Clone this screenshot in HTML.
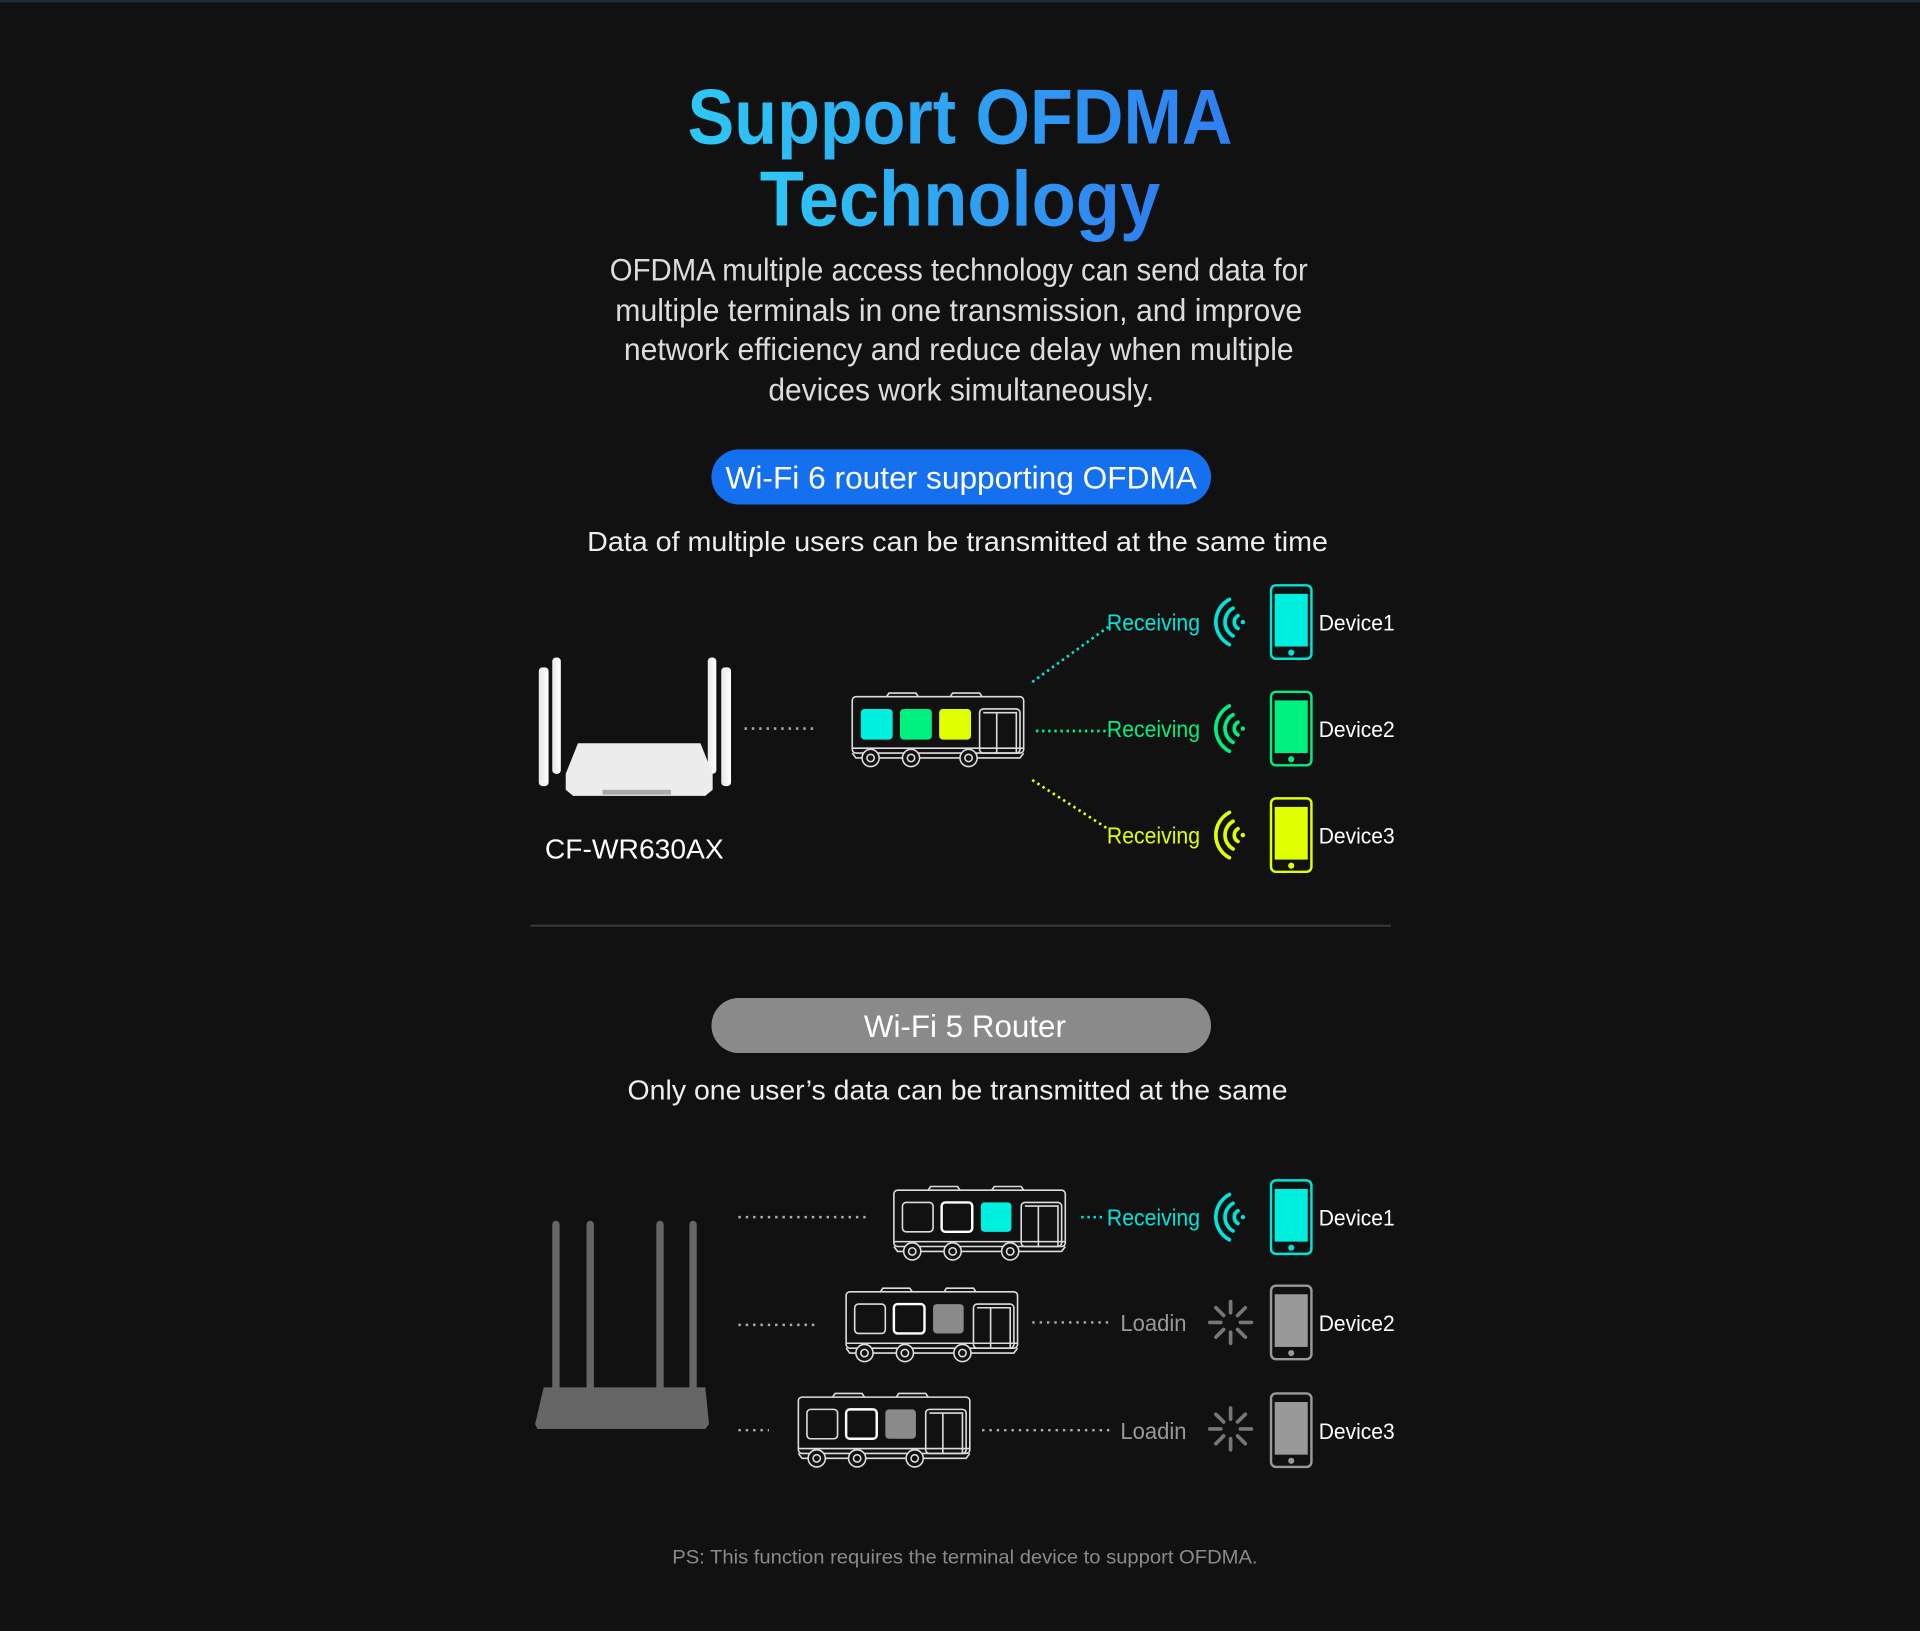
<!DOCTYPE html>
<html><head><meta charset="utf-8"><style>
html,body{margin:0;padding:0;background:#111111;}
svg{display:block}
text{font-family:"Liberation Sans",sans-serif;}
</style></head><body>
<svg width="1920" height="1631" viewBox="0 0 1568 1332" xmlns="http://www.w3.org/2000/svg">
<defs>
<linearGradient id="tg" x1="0" x2="1" y1="0" y2="0">
<stop offset="0" stop-color="#2ec8f5"/><stop offset="1" stop-color="#2f7ef0"/>
</linearGradient>
<linearGradient id="ant" x1="0" x2="1"><stop offset="0" stop-color="#e8e8e8"/><stop offset="1" stop-color="#ffffff"/></linearGradient>
<g id="bus" fill="none" stroke="#ddd" stroke-width="1.3">
<path d="M28 4 L30 1 H52 L54 4 M80 4 L82 1 H104 L106 4"/>
<rect x="0" y="4" width="140" height="46" rx="3"/>
<path d="M0 46 H140 M0 50 L3 54 H137 L140 50"/>
<rect x="104" y="14" width="33" height="36" rx="3"/>
<path d="M118 17 V50 M107 17 H134 V50"/>
<circle cx="15" cy="54" r="7" fill="#111"/><circle cx="15" cy="54" r="3"/>
<circle cx="48" cy="54" r="7" fill="#111"/><circle cx="48" cy="54" r="3"/>
<circle cx="95" cy="54" r="7" fill="#111"/><circle cx="95" cy="54" r="3"/>
</g>
<g id="spin" stroke="#777" stroke-width="3" stroke-linecap="round">
<path d="M0 -8 V-17 M0 8 V17 M-8 0 H-17 M8 0 H17 M5.7 -5.7 L12 -12 M-5.7 5.7 L-12 12 M-5.7 -5.7 L-12 -12 M5.7 5.7 L12 12"/>
</g>
<g id="wave" fill="none" stroke-width="3" stroke-linecap="round">
<path d="M-3 -5.2 A6 6 0 0 0 -3 5.2 M-7 -11.3 A13 13 0 0 0 -7 11.3 M-10 -18.5 A21 21 0 0 0 -10 18.5"/>
</g>
</defs>
<rect width="1568" height="1332" fill="#111111"/>
<rect width="1568" height="2" fill="#1e2a38"/>

<text x="784" y="117" text-anchor="middle" font-size="64" font-weight="bold" fill="url(#tg)" textLength="445" lengthAdjust="spacingAndGlyphs">Support OFDMA</text>
<text x="784" y="184" text-anchor="middle" font-size="64" font-weight="bold" fill="url(#tg)" textLength="327" lengthAdjust="spacingAndGlyphs">Technology</text>

<g fill="#dcdcdc" font-size="26" text-anchor="middle">
<text x="783" y="229" textLength="570" lengthAdjust="spacingAndGlyphs">OFDMA multiple access technology can send data for</text>
<text x="783" y="262" textLength="561" lengthAdjust="spacingAndGlyphs">multiple terminals in one transmission, and improve</text>
<text x="783" y="294" textLength="547" lengthAdjust="spacingAndGlyphs">network efficiency and reduce delay when multiple</text>
<text x="785" y="327" textLength="315" lengthAdjust="spacingAndGlyphs">devices work simultaneously.</text>
</g>

<rect x="581" y="367" width="408" height="45" rx="22.5" fill="#1570ef"/>
<text x="785" y="399" text-anchor="middle" font-size="26" fill="#fff" textLength="385" lengthAdjust="spacingAndGlyphs">Wi-Fi 6 router supporting OFDMA</text>
<text x="782" y="450" text-anchor="middle" font-size="23" fill="#eee" textLength="605" lengthAdjust="spacingAndGlyphs">Data of multiple users can be transmitted at the same time</text>

<rect x="440" y="545" width="8" height="97" rx="3" fill="url(#ant)"/>
<rect x="451" y="537" width="7" height="95" rx="3" fill="url(#ant)"/>
<rect x="578" y="537" width="7" height="95" rx="3" fill="url(#ant)"/>
<rect x="589" y="545" width="8" height="97" rx="3" fill="url(#ant)"/>
<path d="M472 607 H572 L582 632 V645 L576 650 H468 L462 645 V632 Z" fill="#ececec"/>
<rect x="492" y="645" width="56" height="4" fill="#aaa"/>
<text x="518" y="701" text-anchor="middle" font-size="23" fill="#fff" textLength="146" lengthAdjust="spacingAndGlyphs">CF-WR630AX</text>

<line x1="608" y1="595" x2="668" y2="595" stroke="#9ab" stroke-width="2.2" stroke-dasharray="2 4"/>
<use href="#bus" x="696" y="565"/>
<rect x="703" y="579" width="26" height="25" rx="3" fill="#00f0e0"/>
<rect x="735" y="579" width="26" height="25" rx="3" fill="#00f080"/>
<rect x="767" y="579" width="26" height="25" rx="3" fill="#e0ff00"/>

<line x1="843" y1="557" x2="905" y2="512" stroke="#00e5d8" stroke-width="2.2" stroke-dasharray="2 3"/>
<line x1="846" y1="597" x2="905" y2="597" stroke="#00f080" stroke-width="2.2" stroke-dasharray="2 3"/>
<line x1="843" y1="637" x2="905" y2="677" stroke="#e0ff00" stroke-width="2.2" stroke-dasharray="2 3"/>

<g font-size="19">
<text x="904" y="515" fill="#00e5d8" textLength="76" lengthAdjust="spacingAndGlyphs">Receiving</text>
<text x="904" y="602" fill="#00f080" textLength="76" lengthAdjust="spacingAndGlyphs">Receiving</text>
<text x="904" y="689" fill="#e0ff00" textLength="76" lengthAdjust="spacingAndGlyphs">Receiving</text>
</g>

<use href="#wave" x="1014" y="508" stroke="#00e5d8"/><circle cx="1015" cy="508" r="1.8" fill="#00e5d8"/>
<use href="#wave" x="1014" y="595" stroke="#00f080"/><circle cx="1015" cy="595" r="1.8" fill="#00f080"/>
<use href="#wave" x="1014" y="682" stroke="#e0ff00"/><circle cx="1015" cy="682" r="1.8" fill="#e0ff00"/>
<use href="#wave" x="1014" y="994" stroke="#00e5d8"/><circle cx="1015" cy="994" r="1.8" fill="#00e5d8"/>

<g stroke-width="2">
<g transform="translate(1038,478)"><rect width="33" height="60" rx="4" fill="none" stroke="#00e5d8"/><rect x="3" y="7" width="27" height="43" fill="#00f0e0"/><circle cx="16.5" cy="55" r="2.5" fill="#00e5d8"/></g>
<g transform="translate(1038,565)"><rect width="33" height="60" rx="4" fill="none" stroke="#00f080"/><rect x="3" y="7" width="27" height="43" fill="#00f080"/><circle cx="16.5" cy="55" r="2.5" fill="#00f080"/></g>
<g transform="translate(1038,652)"><rect width="33" height="60" rx="4" fill="none" stroke="#e0ff00"/><rect x="3" y="7" width="27" height="43" fill="#e0ff00"/><circle cx="16.5" cy="55" r="2.5" fill="#e0ff00"/></g>
<g transform="translate(1038,964)"><rect width="33" height="60" rx="4" fill="none" stroke="#00e5d8"/><rect x="3" y="7" width="27" height="43" fill="#00f0e0"/><circle cx="16.5" cy="55" r="2.5" fill="#00e5d8"/></g>
<g transform="translate(1038,1050)"><rect width="33" height="60" rx="4" fill="none" stroke="#999"/><rect x="3" y="7" width="27" height="43" fill="#999"/><circle cx="16.5" cy="55" r="2.5" fill="#999"/></g>
<g transform="translate(1038,1138)"><rect width="33" height="60" rx="4" fill="none" stroke="#999"/><rect x="3" y="7" width="27" height="43" fill="#999"/><circle cx="16.5" cy="55" r="2.5" fill="#999"/></g>
</g>
<g font-size="18" fill="#fff">
<text x="1077" y="515" textLength="62" lengthAdjust="spacingAndGlyphs">Device1</text>
<text x="1077" y="602" textLength="62" lengthAdjust="spacingAndGlyphs">Device2</text>
<text x="1077" y="689" textLength="62" lengthAdjust="spacingAndGlyphs">Device3</text>
<text x="1077" y="1001" textLength="62" lengthAdjust="spacingAndGlyphs">Device1</text>
<text x="1077" y="1087" textLength="62" lengthAdjust="spacingAndGlyphs">Device2</text>
<text x="1077" y="1175" textLength="62" lengthAdjust="spacingAndGlyphs">Device3</text>
</g>

<line x1="433" y1="756" x2="1136" y2="756" stroke="#3a3a3a" stroke-width="1.5"/>

<rect x="581" y="815" width="408" height="45" rx="22.5" fill="#8a8a8a"/>
<text x="788" y="847" text-anchor="middle" font-size="26" fill="#fff" textLength="165" lengthAdjust="spacingAndGlyphs">Wi-Fi 5 Router</text>
<text x="782" y="898" text-anchor="middle" font-size="23" fill="#eee" textLength="539" lengthAdjust="spacingAndGlyphs">Only one user’s data can be transmitted at the same</text>

<g fill="#666">
<rect x="451" y="997" width="6" height="140" rx="3"/>
<rect x="479" y="997" width="6" height="140" rx="3"/>
<rect x="536" y="997" width="6" height="140" rx="3"/>
<rect x="563" y="997" width="6" height="140" rx="3"/>
<path d="M444 1133 H576 L579 1163 L576 1167 H439 L437 1163 Z"/>
</g>

<g stroke="#aab" stroke-width="2" stroke-dasharray="2 4">
<line x1="603" y1="994" x2="710" y2="994"/>
<line x1="603" y1="1082" x2="668" y2="1082"/>
<line x1="603" y1="1168" x2="628" y2="1168"/>
<line x1="843" y1="1080" x2="908" y2="1080"/>
<line x1="802" y1="1168" x2="908" y2="1168"/>
</g>
<line x1="883" y1="994" x2="903" y2="994" stroke="#00e5d8" stroke-width="2" stroke-dasharray="2 3"/>

<use href="#bus" x="730" y="968"/>
<rect x="737" y="982" width="25" height="24" rx="3" fill="none" stroke="#ddd" stroke-width="1.3"/>
<rect x="769" y="982" width="25" height="24" rx="3" fill="none" stroke="#fff" stroke-width="2"/>
<rect x="801" y="982" width="25" height="24" rx="3" fill="#00f0e0"/>

<use href="#bus" x="691" y="1051"/>
<rect x="698" y="1065" width="25" height="24" rx="3" fill="none" stroke="#ddd" stroke-width="1.3"/>
<rect x="730" y="1065" width="25" height="24" rx="3" fill="none" stroke="#fff" stroke-width="2"/>
<rect x="762" y="1065" width="25" height="24" rx="3" fill="#8a8a8a"/>

<use href="#bus" x="652" y="1137"/>
<rect x="659" y="1151" width="25" height="24" rx="3" fill="none" stroke="#ddd" stroke-width="1.3"/>
<rect x="691" y="1151" width="25" height="24" rx="3" fill="none" stroke="#fff" stroke-width="2"/>
<rect x="723" y="1151" width="25" height="24" rx="3" fill="#8a8a8a"/>

<text x="904" y="1001" font-size="19" fill="#00e5d8" textLength="76" lengthAdjust="spacingAndGlyphs">Receiving</text>
<text x="915" y="1087" font-size="19" fill="#999" textLength="54" lengthAdjust="spacingAndGlyphs">Loadin</text>
<text x="915" y="1175" font-size="19" fill="#999" textLength="54" lengthAdjust="spacingAndGlyphs">Loadin</text>
<use href="#spin" x="1005" y="1080"/>
<use href="#spin" x="1005" y="1167"/>

<text x="788" y="1277" text-anchor="middle" font-size="16" fill="#8a8a8a" textLength="478" lengthAdjust="spacingAndGlyphs">PS: This function requires the terminal device to support OFDMA.</text>
</svg>
</body></html>
